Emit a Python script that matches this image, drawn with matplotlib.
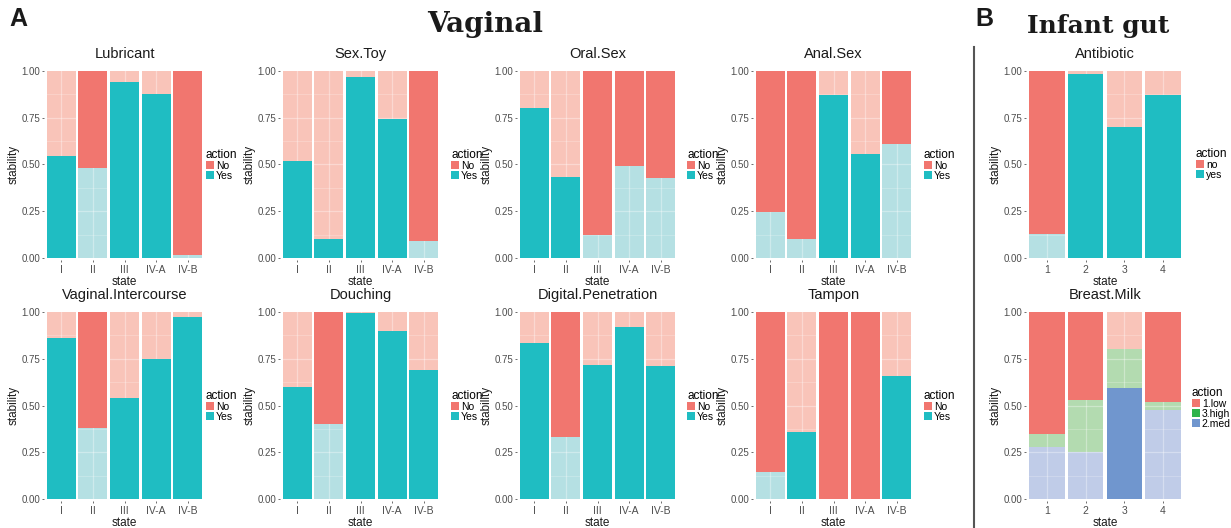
import numpy as np
import matplotlib
matplotlib.use('agg')
import matplotlib.pyplot as plt
from matplotlib.patches import Patch

W, H = 1231, 528

# vaginal community states and per-variable "Yes" stability fractions
states = ["I", "II", "III", "IV-A", "IV-B"]
vaginal_names = ["Lubricant", "Sex.Toy", "Oral.Sex", "Anal.Sex",
                 "Vaginal.Intercourse", "Douching", "Digital.Penetration", "Tampon"]
vaginal_yes = [
    [0.548, 0.480, 0.941, 0.878, 0.018],
    [0.521, 0.104, 0.968, 0.745, 0.092],
    [0.800, 0.435, 0.125, 0.490, 0.430],
    [0.246, 0.100, 0.872, 0.555, 0.607],
    [0.862, 0.378, 0.540, 0.748, 0.974],
    [0.601, 0.403, 0.992, 0.897, 0.691],
    [0.836, 0.332, 0.716, 0.921, 0.712],
    [0.146, 0.360, 0.000, 0.000, 0.660],
]
# action chosen in each state (drawn opaque, the other one faded)
vaginal_best = [
    ["Yes", "No", "Yes", "Yes", "No"],
    ["Yes", "Yes", "Yes", "Yes", "No"],
    ["Yes", "Yes", "No", "No", "No"],
    ["No", "No", "Yes", "Yes", "No"],
    ["Yes", "No", "Yes", "Yes", "Yes"],
    ["Yes", "No", "Yes", "Yes", "Yes"],
    ["Yes", "No", "Yes", "Yes", "Yes"],
    ["No", "Yes", "No", "No", "Yes"],
]

# infant gut
infant_states = ["1", "2", "3", "4"]
antibiotic_yes = [0.130, 0.985, 0.700, 0.873]
antibiotic_best = ["no", "yes", "yes", "yes"]
milk_med = [0.281, 0.251, 0.595, 0.477]
milk_high = [0.065, 0.278, 0.208, 0.041]
milk_best = ["1.low", "1.low", "2.med", "1.low"]

full = {"No": "#F1766F", "Yes": "#1FBDC2", "no": "#F1766F", "yes": "#1FBDC2",
        "1.low": "#F1766F", "3.high": "#2EB34B", "2.med": "#7096CE"}
faded = {"No": "#F9C4B9", "Yes": "#B5E0E3", "no": "#F9C4B9", "yes": "#B5E0E3",
         "1.low": "#F9C4B9", "3.high": "#B3DBB0", "2.med": "#C0CCE8"}

plt.rcParams['font.family'] = ['Liberation Sans', 'DejaVu Sans']

fig = plt.figure(figsize=(W / 100, H / 100), dpi=100)


def add_axes_px(left, top, width, height):
    return fig.add_axes([left / W, 1 - (top + height) / H, width / W, height / H])


def draw_panel(ax, title, labels, segments, best, legend_levels, legend_pos):
    n = len(labels)
    x = np.arange(1, n + 1)
    bottom = np.zeros(n)
    for level, vals in segments:
        vals = np.asarray(vals)
        for i in range(n):
            if best[i] == level:
                ax.bar(x[i], vals[i], bottom=bottom[i], width=0.92,
                       color=full[level], linewidth=0, zorder=2)
            else:
                ax.bar(x[i], vals[i], bottom=bottom[i], width=0.92,
                       color=faded[level], linewidth=0, zorder=1)
        bottom = bottom + vals

    # white grid only shows through the faded bars
    for y in [0.25, 0.5, 0.75]:
        ax.axhline(y, color='white', lw=0.9, alpha=0.35, zorder=1.5)
    for y in [0.125, 0.375, 0.625, 0.875]:
        ax.axhline(y, color='white', lw=0.5, alpha=0.3, zorder=1.5)
    for xi in x:
        ax.axvline(xi, color='white', lw=0.9, alpha=0.35, zorder=1.5)

    ax.set_xlim(0.45, n + 0.55)
    ax.set_ylim(-0.01, 1.01)
    ax.set_xticks(x)
    ax.set_xticklabels(labels)
    ax.set_yticks([0, 0.25, 0.5, 0.75, 1.0])
    ax.set_yticklabels(["0.00", "0.25", "0.50", "0.75", "1.00"])
    ax.tick_params(axis='y', length=1.5, width=0.6, color='#555555',
                   labelsize=7, labelcolor='#4D4D4D', pad=1)
    ax.tick_params(axis='x', length=1.5, width=0.6, color='#555555',
                   labelsize=7.5, labelcolor='#4D4D4D', pad=2)
    for s in ax.spines.values():
        s.set_visible(False)

    ax.annotate(title, (0.5, 1), xycoords='axes fraction', xytext=(0, 15),
                textcoords='offset pixels', ha='center', va='center',
                fontsize=10.5, color='#1A1A1A')
    ax.annotate("state", (0.5, 0), xycoords='axes fraction', xytext=(0, -22),
                textcoords='offset pixels', ha='center', va='center',
                fontsize=8.5, color='#1A1A1A')
    ax.annotate("stability", (0, 0.5), xycoords='axes fraction', xytext=(-30, 0),
                textcoords='offset pixels', ha='center', va='center',
                rotation=90, fontsize=8.5, color='#1A1A1A')

    handles = [Patch(facecolor=full[l], edgecolor='none') for l in legend_levels]
    ax.legend(handles, legend_levels, title="action", loc='upper left',
              bbox_to_anchor=(legend_pos[0] / W, 1 - legend_pos[1] / H),
              bbox_transform=fig.transFigure, frameon=False, fontsize=7.5,
              title_fontproperties={'size': 8.5}, alignment='left', borderpad=0,
              borderaxespad=0, handlelength=0.8, handleheight=0.8,
              handletextpad=0.15, labelspacing=0.0)


col_left = [44, 280, 517, 753]
row_top = [69, 310]
legend_x = [206, 451, 687, 924]

for k, name in enumerate(vaginal_names):
    r, c = divmod(k, 4)
    ax = add_axes_px(col_left[c], row_top[r], 161, 191)
    yes = np.array(vaginal_yes[k])
    draw_panel(ax, name, states, [("Yes", yes), ("No", 1 - yes)],
               vaginal_best[k], ["No", "Yes"], (legend_x[c], row_top[r] + 80))

ax = add_axes_px(1026, 69, 158, 191)
yes = np.array(antibiotic_yes)
draw_panel(ax, "Antibiotic", infant_states, [("yes", yes), ("no", 1 - yes)],
           antibiotic_best, ["no", "yes"], (1196, 148))

ax = add_axes_px(1026, 310, 158, 191)
med = np.array(milk_med)
high = np.array(milk_high)
draw_panel(ax, "Breast.Milk", infant_states,
           [("2.med", med), ("3.high", high), ("1.low", 1 - med - high)],
           milk_best, ["1.low", "3.high", "2.med"], (1192, 387))

# panel letters, group headers and divider
fig.text(18 / W, 1 - 19 / H, "A", fontsize=18, fontweight='bold',
         ha='center', va='center', color='#1A1A1A')
fig.text(984 / W, 1 - 19 / H, "B", fontsize=18, fontweight='bold',
         ha='center', va='center', color='#1A1A1A')
fig.text(485 / W, 1 - 24 / H, "Vaginal", fontsize=20, fontweight='bold',
         family='DejaVu Serif', ha='center', va='center', color='#1A1A1A')
fig.text(1098 / W, 1 - 26 / H, "Infant gut", fontsize=18, fontweight='bold',
         family='DejaVu Serif', ha='center', va='center', color='#1A1A1A')
fig.add_artist(plt.Line2D([974 / W, 974 / W], [0, 1 - 47 / H],
                          transform=fig.transFigure, color='#555555', lw=1.5))

fig.savefig('out.png', dpi=100)
plt.close(fig)
